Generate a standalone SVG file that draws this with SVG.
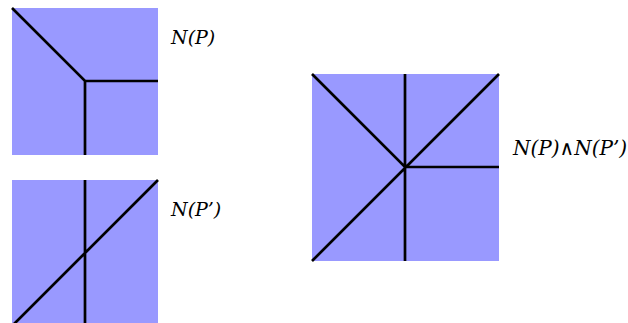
<svg xmlns="http://www.w3.org/2000/svg" width="628" height="323" viewBox="0 0 628 323">
<style>
.sq{fill:#9999ff}
.ln{stroke:#000;stroke-width:2.7;fill:none;stroke-linejoin:miter}
.lb{font-family:'DejaVu Serif','Liberation Serif',serif;font-style:italic;font-size:19px;fill:#000}
</style>
<g id="np">
<rect class="sq" x="12" y="8" width="146" height="147"/>
<path class="ln" d="M12,8 L85,81 L158,81 M85,81 L85,155"/>
<text class="lb" x="171" y="44">N(P)</text>
</g>
<g id="npp">
<rect class="sq" x="12" y="180" width="146" height="146"/>
<path class="ln" d="M85,180 L85,326 M158,180 L12,326"/>
<text class="lb" x="171" y="216">N(P’)</text>
</g>
<g id="nboth">
<rect class="sq" x="312" y="74" width="187" height="187"/>
<path class="ln" d="M312,74 L405,167 L499,167 M499,74 L312,261 M405,74 L405,261"/>
<text class="lb" x="513" y="155" style="font-size:20px">N(P)∧N(P’)</text>
</g>
<g id="connectors"></g>
</svg>
